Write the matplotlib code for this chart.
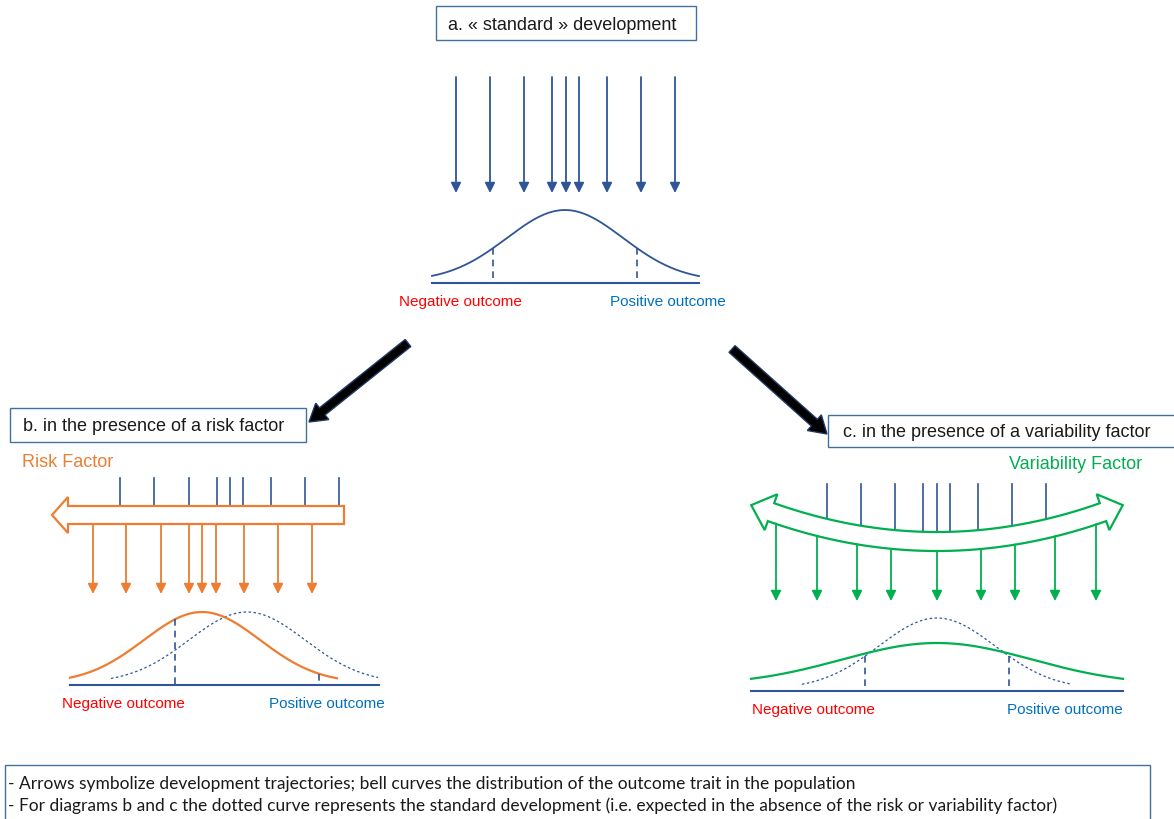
import numpy as np
import matplotlib
matplotlib.use("Agg")
import matplotlib.pyplot as plt
from matplotlib.patches import Rectangle, Polygon, FancyArrow

NAVY = "#2F5597"
ORANGE = "#ED7D31"
GREEN = "#00B050"
RED = "#FF0000"
BLUE = "#0070C0"

# trajectories (x positions, in px) for each panel
traj_a = [456, 490, 524, 552, 566, 579, 607, 641, 675]
traj_b_in = [120, 154, 189, 217, 230, 243, 271, 305, 339]
traj_b_out = [93, 126, 161, 189, 202, 216, 244, 278, 312]
traj_c_in = [827, 861, 895, 923, 937, 950, 978, 1012, 1046]
traj_c_out = [776, 817, 857, 891, 937, 981, 1015, 1055, 1096]

# bell curves: centre, sigma, amplitude, range
std_sigma, std_amp, std_lift = 58, 71, 2
curve_a = dict(mu=565, lo=432, hi=699, base=284)
curve_b = dict(mu=202, lo=70, hi=337, base=686, std_mu=247, std_lo=111, std_hi=378)
curve_c = dict(mu=937, sigma=95, amp=42, lo=751, hi=1123, base=692,
               std_lo=802, std_hi=1070)
threshold = 72  # distance of outcome cut-offs from the standard mean

fig = plt.figure(figsize=(11.74, 8.2), dpi=100)
ax = fig.add_axes([0, 0, 1, 1])
ax.set_xlim(0, 1174)
ax.set_ylim(820, 0)
ax.axis("off")

FONT = "Liberation Sans"


def bell(x, mu, sigma, amp, base, lift=std_lift):
    return base - lift - amp * np.exp(-(x - mu) ** 2 / (2 * sigma ** 2))


def std_bell(x, mu, base):
    return bell(x, mu, std_sigma, std_amp, base)


def down_arrow(x, y0, y1, color):
    ax.annotate("", xy=(x, y1), xytext=(x, y0),
                arrowprops=dict(arrowstyle="-|>,head_length=0.6,head_width=0.3",
                                color=color, lw=1.3, shrinkA=0, shrinkB=0,
                                mutation_scale=10))


def box(x0, y0, x1, y1, text, tx):
    ax.add_patch(Rectangle((x0, y0), x1 - x0, y1 - y0, fill=False,
                           ec="#41719C", lw=1.0, clip_on=False))
    ax.text(tx, (y0 + y1) / 2 + 1, text, fontsize=13, family=FONT,
            va="center", ha="left", color="#1a1a1a")


def outcome_labels(xn, xp, y):
    ax.text(xn, y, "Negative outcome", color=RED, fontsize=11, family=FONT,
            ha="center", va="center")
    ax.text(xp, y, "Positive outcome", color=BLUE, fontsize=11, family=FONT,
            ha="center", va="center")


# ---- panel a
box(436, 7, 696, 41, "a. « standard » development", 448)
for x in traj_a:
    down_arrow(x, 78, 194, NAVY)
xs = np.linspace(curve_a["lo"], curve_a["hi"], 300)
ax.plot(xs, std_bell(xs, curve_a["mu"], curve_a["base"]), color=NAVY, lw=1.3)
ax.plot([curve_a["lo"], curve_a["hi"]], [curve_a["base"]] * 2, color=NAVY, lw=1.5)
for d in (-threshold, threshold):
    xv = curve_a["mu"] + d
    ax.plot([xv, xv], [std_bell(xv, curve_a["mu"], curve_a["base"]), curve_a["base"]],
            color=NAVY, lw=1.2, ls=(0, (4, 3)))
outcome_labels(460, 668, 302)

# ---- connecting arrows
for (x0, y0, x1, y1) in [(408, 344, 309, 423), (732, 350, 827, 435)]:
    ax.add_patch(FancyArrow(x0, y0, x1 - x0, y1 - y0, width=9, head_width=21,
                            head_length=17, length_includes_head=True,
                            fc="black", ec="#1F3864", lw=1.0))

# ---- panel b
box(10, 409, 306, 443, "b. in the presence of a risk factor", 23)
ax.text(22, 463, "Risk Factor", color=ORANGE, fontsize=13, family=FONT, va="center")
for x in traj_b_in:
    ax.plot([x, x], [479, 507], color=NAVY, lw=1.2)
band = [(344, 507), (68, 507), (68, 498), (52, 516), (68, 534), (68, 525), (344, 525)]
ax.add_patch(Polygon(band, closed=True, fc="white", ec=ORANGE, lw=1.6, zorder=3))
for x in traj_b_out:
    down_arrow(x, 525, 595, ORANGE)
xs = np.linspace(curve_b["std_lo"], curve_b["std_hi"], 300)
ax.plot(xs, std_bell(xs, curve_b["std_mu"], curve_b["base"]),
        color=NAVY, lw=0.9, ls=(0, (2, 2)))
xs = np.linspace(curve_b["lo"], curve_b["hi"], 300)
ax.plot(xs, std_bell(xs, curve_b["mu"], curve_b["base"]), color=ORANGE, lw=1.6)
ax.plot([70, 379], [curve_b["base"]] * 2, color=NAVY, lw=1.5)
for d in (-threshold, threshold):
    xv = curve_b["std_mu"] + d
    ax.plot([xv, xv], [std_bell(xv, curve_b["mu"], curve_b["base"]), curve_b["base"]],
            color=NAVY, lw=1.2, ls=(0, (4, 3)))
outcome_labels(123, 327, 704)

# ---- panel c
box(828, 416, 1190, 448, "c. in the presence of a variability factor", 843)
ax.text(1142, 465, "Variability Factor", color=GREEN, fontsize=13, family=FONT,
        va="center", ha="right")

mid, half_w = 937, 9.5


def band_centre(x):
    return 542.5 - 29 * ((x - mid) / 165.0) ** 2


def band_normal(x):
    slope = -2 * 29 * (x - mid) / 165.0 ** 2
    t = np.array([1.0, slope]) / np.hypot(1.0, slope)
    return t, np.array([t[1], -t[0]])


bx = np.linspace(771, 1103, 200)
top, bot = [], []
for x in bx:
    t, n = band_normal(x)
    c = np.array([x, band_centre(x)])
    top.append(c + n * half_w)
    bot.append(c - n * half_w)


def head(x, sign):
    t, n = band_normal(x)
    c = np.array([x, band_centre(x)])
    return [c + n * half_w, c + n * 19, c + sign * t * 21, c - n * 19, c - n * half_w]


outline = top + head(1103, 1)[1:-1] + bot[::-1] + head(771, -1)[::-1][1:-1]
for x in traj_c_in:
    ax.plot([x, x], [485, band_centre(x) - half_w], color=NAVY, lw=1.2)
ax.add_patch(Polygon(outline, closed=True, fc="white", ec=GREEN, lw=1.6, zorder=3))
for x in traj_c_out:
    down_arrow(x, band_centre(x) + half_w, 602, GREEN)

xs = np.linspace(curve_c["std_lo"], curve_c["std_hi"], 300)
ax.plot(xs, std_bell(xs, curve_c["mu"], curve_c["base"]),
        color=NAVY, lw=0.9, ls=(0, (2, 2)))
xs = np.linspace(curve_c["lo"], curve_c["hi"], 300)
ax.plot(xs, bell(xs, curve_c["mu"], curve_c["sigma"], curve_c["amp"], curve_c["base"], lift=6),
        color=GREEN, lw=1.6)
ax.plot([751, 1123], [curve_c["base"]] * 2, color=NAVY, lw=1.5)
for d in (-threshold, threshold):
    xv = curve_c["mu"] + d
    ax.plot([xv, xv], [std_bell(xv, curve_c["mu"], curve_c["base"]), curve_c["base"]],
            color=NAVY, lw=1.2, ls=(0, (4, 3)))
outcome_labels(813, 1065, 710)

# ---- footnote
ax.add_patch(Rectangle((5, 766), 1145, 80, fill=False, ec="#41719C", lw=1.0, clip_on=False))
notes = ["- Arrows symbolize development trajectories; bell curves the distribution of the outcome trait in the population",
         "- For diagrams b and c the dotted curve represents the standard development (i.e. expected in the absence of the risk or variability factor)"]
for i, line in enumerate(notes):
    ax.text(8, 784 + 22 * i, line, fontsize=12.5, family=["Lato", "DejaVu Sans"],
            va="center", color="#1a1a1a")

fig.savefig("out.png", dpi=100)
